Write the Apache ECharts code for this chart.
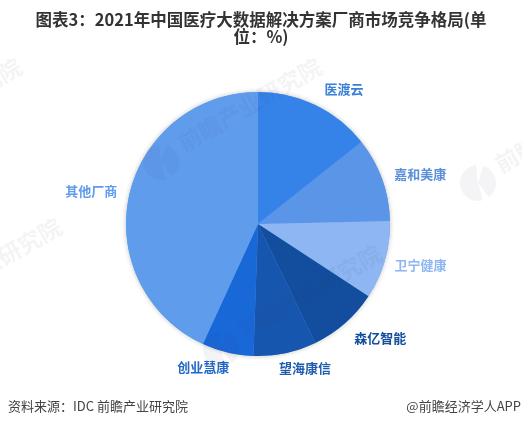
<!DOCTYPE html>
<html>
<head>
<meta charset="utf-8">
<style>
html, body { margin: 0; padding: 0; background: #fff; }
#main { width: 522px; height: 427px; }
</style>
<script src="https://cdn.jsdelivr.net/npm/echarts@6/dist/echarts.min.js"></script>
</head>
<body>
<div id="main"></div>
<script>
var titleText = '图表3：2021年中国医疗大数据解决方案厂商市场竞争格局(单\n位：%)';
var sourceText = '资料来源：IDC 前瞻产业研究院';
var brandText = '@前瞻经济学人APP';
var watermarkText = '前瞻产业研究院';
var names = ['医渡云', '嘉和美康', '卫宁健康', '森亿智能', '望海康信', '创业慧康', '其他厂商'];
var values = [14.3, 10.3, 9.6, 8.6, 7.7, 6.3, 43.1];
var colors = ['#3583E8', '#5A95E8', '#8DB6F3', '#124D9E', '#1756AE', '#1868D8', '#5F9CEC'];
var labelColors = ['#3A7FD8', '#5A8FDC', '#8DB6F3', '#124D9E', '#1F5CAE', '#2468C8', '#5F9CEC'];

var fontFamily = '"Noto Sans CJK SC", sans-serif';
var myChart = echarts.init(document.getElementById('main'), null, { renderer: 'canvas' });

// 标签微调
var labelOffsets = [[-2, -3], [-6, 0], [-9, 1], [-5, 4], [-14, 1], [10, 1], [7, -2]];

var pieData = [];
for (var i = 0; i < names.length; i++) {
	pieData.push({
		name: names[i],
		value: values[i],
		itemStyle: { color: colors[i] },
		label: { color: labelColors[i] }
	});
}

// 水印
var markAnchors = [[180, 145], [497, 166], [-80, 305], [240, 332], [-120, 145]];
var markColor = 'rgba(60,70,110,0.06)';
var graphics = [];
for (var j = 0; j < markAnchors.length; j++) {
	graphics.push({
		type: 'text',
		x: markAnchors[j][0],
		y: markAnchors[j][1],
		rotation: Math.PI / 6,
		z: 100,
		silent: true,
		style: {
			text: watermarkText,
			fontFamily: fontFamily,
			fontSize: 23,
			fontWeight: 'bold',
			fill: markColor,
			verticalAlign: 'middle'
		}
	});
	graphics.push({
		type: 'sector',
		x: markAnchors[j][0] - 19,
		y: markAnchors[j][1] + 17,
		z: 100,
		silent: true,
		shape: { r: 18, startAngle: 1.3, endAngle: 4.6 },
		style: { fill: markColor }
	});
	graphics.push({
		type: 'sector',
		x: markAnchors[j][0] - 19,
		y: markAnchors[j][1] + 17,
		z: 100,
		silent: true,
		shape: { r: 18, startAngle: 5.0, endAngle: 7.2 },
		style: { fill: markColor }
	});
}

myChart.setOption({
	animation: false,
	graphic: { elements: graphics },
	title: [{
		text: titleText,
		left: 261,
		top: 11,
		padding: 0,
		textAlign: 'center',
		textStyle: { fontFamily: fontFamily, fontSize: 16.5, fontWeight: 'bold', color: '#333', lineHeight: 17, align: 'center' }
	}, {
		text: sourceText,
		left: 8,
		top: 400,
		padding: 0,
		textStyle: { fontFamily: fontFamily, fontSize: 13, fontWeight: 'normal', color: '#444' }
	}, {
		text: brandText,
		right: 1,
		top: 400,
		padding: 0,
		textStyle: { fontFamily: fontFamily, fontSize: 13, fontWeight: 'normal', color: '#444' }
	}],
	series: [{
		// 底层阴影
		type: 'pie',
		center: [258, 224],
		radius: [0, 132],
		silent: true,
		z: 1,
		data: [{ value: 1, name: '' }],
		label: { show: false },
		labelLine: { show: false },
		itemStyle: { color: '#5F9CEC', shadowBlur: 5, shadowColor: 'rgba(0,0,0,0.25)' },
		emphasis: { disabled: true }
	}, {
		type: 'pie',
		center: [258, 224],
		radius: [0, 132],
		startAngle: 90,
		clockwise: true,
		z: 2,
		data: pieData,
		label: {
			show: true,
			position: 'outside',
			formatter: '{b}',
			fontFamily: fontFamily,
			fontSize: 13,
			fontWeight: 'bold'
		},
		labelLine: { show: false, length: 14, length2: 0 },
		labelLayout: function (params) {
			return { dx: labelOffsets[params.dataIndex][0], dy: labelOffsets[params.dataIndex][1] };
		},
		emphasis: { disabled: true }
	}]
});
</script>
</body>
</html>
